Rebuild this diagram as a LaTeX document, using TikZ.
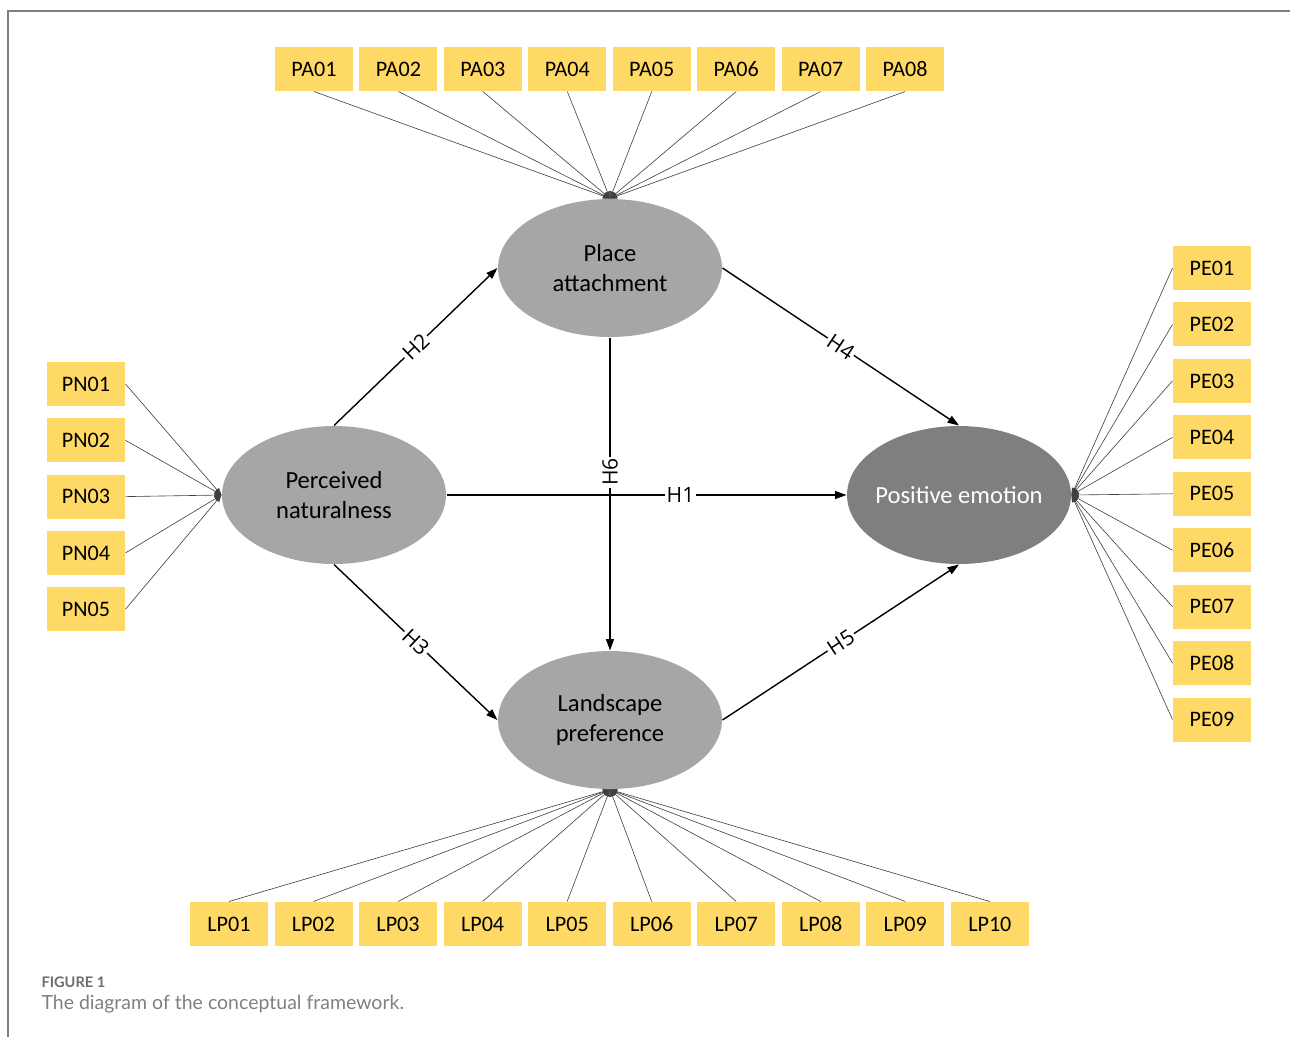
\documentclass[tikz,border=0pt]{standalone}
\usepackage{fontspec}
\setmainfont{Carlito}
\newfontfamily\hypfont{Open Sans}
\newfontfamily\capfont{Lato}
\usetikzlibrary{arrows.meta,positioning,shapes.geometric}

\definecolor{boxyellow}{HTML}{FFD966}
\definecolor{latgray}{HTML}{A6A6A6}
\definecolor{emogray}{HTML}{7F7F7F}
\definecolor{framegray}{HTML}{7F7F7F}
\definecolor{capgray}{HTML}{808080}

\begin{document}
\begin{tikzpicture}[
    x = 0.02cm, y = -0.02cm, % one unit = one pixel, y runs down
    > = {Triangle[length=6.5pt,width=4.5pt]}, % arrow head style
    semithick % line style
    ]

    \tikzset{
    indbox/.style = {fill=boxyellow, minimum width=1.56cm, minimum height=0.88cm,
        inner sep=0pt, font=\fontsize{12.6}{15}\selectfont},
    latent/.style = {ellipse, fill=latgray, minimum width=4.48cm, minimum height=2.76cm,
        inner sep=0pt, align=center, font=\fontsize{14}{17}\selectfont},
    hyp/.style = {->, line width=0.8pt},
    hyplabel/.style = {fill=white, inner sep=1pt, font=\hypfont\fontsize{12}{14}\selectfont},
    indline/.style = {-{Triangle[length=4pt,width=3pt]}, line width=0.35pt, draw=black!75}
    }

    \useasboundingbox (0,0) rectangle (1290,1036);
    \draw[framegray, line width=0.9pt] (8,1060) -- (8,11) -- (1310,11);

    % latent variables
    \node[latent] (pn) at (334,495) {Perceived\\naturalness};
    \node[latent] (pa) at (610,268) {Place\\attachment};
    \node[latent] (lp) at (610,720) {Landscape\\preference};
    \node[latent, fill=emogray, text=white, inner xsep=-12pt] (pe) at (959,495) {Positive emotion};

    % indicators
    \node[indbox] (pa1) at (314,69) {PA01};
    \foreach \i in {2,...,8}{
        \pgfmathtruncatemacro\j{\i-1}
        \node[indbox, right=1.08mm of pa\j] (pa\i) {PA0\i};
    }
    \node[indbox] (pn1) at (86,384) {PN01};
    \foreach \i in {2,...,5}{
        \pgfmathtruncatemacro\j{\i-1}
        \node[indbox, below=2.25mm of pn\j] (pn\i) {PN0\i};
    }
    \node[indbox] (pe1) at (1212,268) {PE01};
    \foreach \i in {2,...,9}{
        \pgfmathtruncatemacro\j{\i-1}
        \node[indbox, below=2.28mm of pe\j] (pe\i) {PE0\i};
    }
    \node[indbox] (lp1) at (229,924) {LP01};
    \foreach \i in {2,...,10}{
        \pgfmathtruncatemacro\j{\i-1}
        \node[indbox, right=1.1mm of lp\j] (lp\i) {LP\ifnum\i<10 0\fi\i};
    }

    \foreach \i in {1,...,8} \draw[indline] (pa\i.south) -- (pa.north);
    \foreach \i in {1,...,5} \draw[indline] (pn\i.east) -- (pn.west);
    \foreach \i in {1,...,9} \draw[indline] (pe\i.west) -- (pe.east);
    \foreach \i in {1,...,10} \draw[indline] (lp\i.north) -- (lp.south);

    % hypotheses
    \path[hyp] (pn.east) edge node[hyplabel, pos=0.585]{H1} (pe.west);
    \path[hyp] (pn.north) edge node[hyplabel, sloped]{H2} (pa.west);
    \path[hyp] (pn.south) edge node[hyplabel, sloped]{H3} (lp.west);
    \path[hyp] (pa.east) edge node[hyplabel, sloped]{H4} (pe.north);
    \path[hyp] (lp.east) edge node[hyplabel, sloped]{H5} (pe.south);
    \path[hyp] (pa.south) edge node[hyplabel, pos=0.43, rotate=90]{H6} (lp.north);

    % caption
    \node[anchor=base west, inner sep=0pt, text=capgray!85!black,
        font=\capfont\bfseries\fontsize{8.3}{10}\selectfont] (fig) at (41,987) {FIGURE 1};
    \node[anchor=base west, inner sep=0pt, text=capgray,
        font=\capfont\fontsize{11.1}{13}\selectfont] (cap) at (41,1009) {The diagram of the conceptual framework.};
\end{tikzpicture}
\end{document}
